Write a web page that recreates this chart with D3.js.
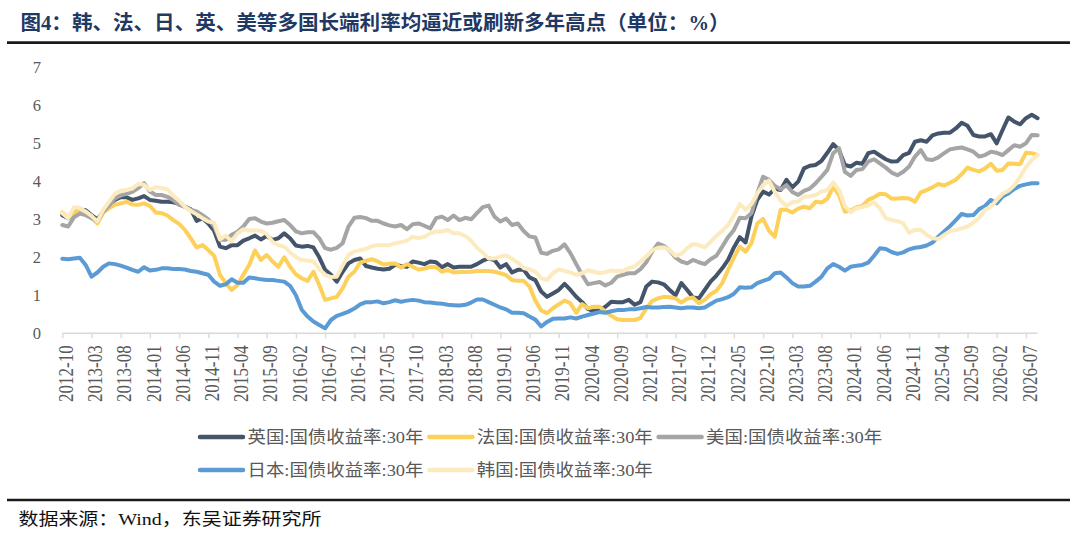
<!DOCTYPE html>
<html>
<head>
<meta charset="utf-8">
<script src="https://cdn.jsdelivr.net/npm/d3@7"></script>
<style>
  html, body { margin: 0; padding: 0; background: #ffffff; }
  svg { display: block; }
</style>
</head>
<body>
<svg id="chart" width="1080" height="539"></svg>
<script>
// ---------- DATA ----------
const titleText = "图4：韩、法、日、英、美等多国长端利率均逼近或刷新多年高点（单位：%）";
const sourceText = "数据来源：Wind，东吴证券研究所";

// monthly categories 2012-10 .. 2026-09
const months = d3.timeMonth.range(new Date(2012, 9, 1), new Date(2026, 9, 1)).map(d3.timeFormat("%Y-%m"));

const tickLabels = ["2012-10","2013-03","2013-08","2014-01","2014-06","2014-11","2015-04","2015-09",
  "2016-02","2016-07","2016-12","2017-05","2017-10","2018-03","2018-08","2019-01","2019-06","2019-11",
  "2020-04","2020-09","2021-02","2021-07","2021-12","2022-05","2022-10","2023-03","2023-08","2024-01",
  "2024-06","2024-11","2025-04","2025-09","2026-02","2026-07"];
const yTicks = [0, 1, 2, 3, 4, 5, 6, 7];

const seriesNames = ["英国:国债收益率:30年", "法国:国债收益率:30年", "美国:国债收益率:30年",
  "日本:国债收益率:30年", "韩国:国债收益率:30年"];

const ukValues = [
  3.11,3.03,3.16,3.26,3.24,3.11,3.00,3.20,3.38,3.51,
  3.58,3.58,3.51,3.55,3.61,3.51,3.49,3.46,3.46,3.45,
  3.41,3.33,3.26,2.96,3.03,2.89,2.70,2.28,2.24,2.32,
  2.32,2.44,2.50,2.57,2.47,2.56,2.46,2.50,2.63,2.50,
  2.31,2.28,2.30,2.26,2.00,1.67,1.54,1.36,1.62,1.84,
  1.93,1.97,1.77,1.73,1.70,1.68,1.70,1.80,1.77,1.75,
  1.89,1.86,1.82,1.89,1.87,1.74,1.82,1.73,1.75,1.75,
  1.75,1.82,1.91,1.97,1.93,1.73,1.82,1.60,1.67,1.67,
  1.47,1.40,1.10,0.96,1.05,1.14,1.30,1.14,0.96,0.82,
  0.64,0.58,0.61,0.70,0.83,0.82,0.82,0.88,0.75,0.82,
  1.23,1.36,1.34,1.29,1.14,1.00,1.32,1.14,0.94,0.92,
  1.14,1.36,1.52,1.71,1.93,2.26,2.53,2.39,3.07,3.51,
  3.73,3.65,3.80,3.77,4.04,3.84,3.99,4.34,4.41,4.43,
  4.54,4.75,4.98,4.82,4.43,4.39,4.49,4.46,4.74,4.78,
  4.68,4.58,4.52,4.53,4.69,4.75,5.04,5.08,5.04,5.21,
  5.26,5.28,5.28,5.39,5.54,5.46,5.22,5.18,5.18,5.24,
  5.00,5.35,5.68,5.57,5.50,5.66,5.75,5.66];

const frValues = [
  3.18,3.04,3.16,3.26,3.20,3.07,2.89,3.18,3.29,3.38,
  3.42,3.46,3.39,3.38,3.42,3.35,3.18,3.16,3.10,2.98,
  2.88,2.72,2.50,2.26,2.32,2.19,2.04,1.54,1.32,1.14,
  1.27,1.54,1.80,2.18,1.93,2.06,1.89,1.75,2.00,1.75,
  1.55,1.45,1.38,1.62,1.27,0.88,0.92,0.96,1.18,1.49,
  1.62,1.86,1.91,1.95,1.89,1.81,1.83,1.84,1.73,1.82,
  1.75,1.68,1.70,1.75,1.74,1.62,1.67,1.60,1.61,1.61,
  1.62,1.64,1.64,1.64,1.62,1.58,1.53,1.40,1.38,1.38,
  1.23,0.86,0.60,0.53,0.66,0.76,0.86,0.79,0.54,0.77,
  0.66,0.70,0.70,0.57,0.46,0.37,0.35,0.35,0.35,0.40,
  0.66,0.85,0.92,0.96,0.95,0.92,0.81,0.91,0.94,0.79,
  0.88,1.03,1.12,1.32,1.67,1.99,2.28,2.15,2.37,2.89,
  3.01,2.70,2.54,3.25,3.25,3.18,3.28,3.33,3.29,3.46,
  3.44,3.54,3.86,3.64,3.20,3.23,3.32,3.35,3.51,3.58,
  3.67,3.66,3.54,3.55,3.56,3.55,3.46,3.71,3.77,3.84,
  3.93,3.89,3.96,4.04,4.19,4.36,4.30,4.26,4.34,4.46,
  4.28,4.30,4.47,4.46,4.45,4.75,4.74,4.69];

const usValues = [
  2.85,2.81,3.05,3.15,3.11,3.03,2.94,3.20,3.36,3.55,
  3.63,3.67,3.72,3.82,3.95,3.73,3.64,3.64,3.59,3.51,
  3.38,3.33,3.25,3.21,3.11,3.00,2.81,2.46,2.46,2.59,
  2.67,2.81,3.01,3.03,2.94,2.89,2.91,2.95,2.98,2.85,
  2.68,2.63,2.66,2.66,2.50,2.24,2.20,2.25,2.37,2.81,
  3.04,3.06,3.03,2.96,2.96,2.89,2.84,2.81,2.85,2.74,
  2.87,2.89,2.83,2.76,3.03,3.07,2.98,3.10,2.98,3.04,
  3.00,3.16,3.32,3.36,3.07,2.94,3.02,2.85,2.89,2.69,
  2.55,2.52,2.12,2.09,2.17,2.21,2.34,2.11,1.82,1.54,
  1.29,1.32,1.35,1.26,1.33,1.49,1.54,1.58,1.58,1.69,
  1.87,2.15,2.36,2.30,2.18,1.99,1.89,1.84,1.93,1.87,
  1.82,1.95,2.04,2.28,2.53,2.72,3.04,3.03,3.16,3.68,
  4.12,4.04,3.88,3.79,3.90,3.72,3.64,3.75,3.81,3.95,
  4.12,4.30,4.74,4.87,4.25,4.14,4.30,4.32,4.52,4.58,
  4.47,4.36,4.23,4.16,4.25,4.39,4.65,4.82,4.58,4.56,
  4.63,4.74,4.84,4.87,4.89,4.84,4.78,4.65,4.69,4.78,
  4.75,4.69,4.82,4.95,4.91,5.00,5.22,5.21];

const jpValues = [
  1.96,1.95,1.97,1.99,1.80,1.49,1.60,1.75,1.84,1.82,
  1.78,1.73,1.67,1.62,1.74,1.65,1.67,1.71,1.71,1.69,
  1.69,1.68,1.64,1.62,1.58,1.54,1.36,1.25,1.29,1.42,
  1.33,1.33,1.47,1.45,1.42,1.40,1.40,1.38,1.36,1.25,
  1.00,0.62,0.44,0.31,0.22,0.13,0.35,0.46,0.51,0.57,
  0.65,0.76,0.82,0.82,0.84,0.79,0.82,0.87,0.83,0.86,
  0.88,0.86,0.82,0.81,0.79,0.78,0.75,0.74,0.73,0.75,
  0.81,0.89,0.89,0.82,0.75,0.68,0.63,0.54,0.54,0.53,
  0.44,0.36,0.18,0.30,0.38,0.39,0.39,0.42,0.39,0.44,
  0.48,0.52,0.56,0.54,0.58,0.61,0.61,0.63,0.63,0.66,
  0.69,0.68,0.68,0.69,0.70,0.68,0.66,0.68,0.68,0.66,
  0.68,0.77,0.86,0.90,0.95,1.04,1.21,1.20,1.21,1.32,
  1.38,1.43,1.58,1.60,1.47,1.32,1.23,1.23,1.25,1.36,
  1.49,1.71,1.82,1.75,1.65,1.75,1.78,1.80,1.86,2.04,
  2.24,2.22,2.14,2.09,2.13,2.21,2.25,2.27,2.31,2.39,
  2.54,2.68,2.82,2.98,3.14,3.10,3.11,3.27,3.35,3.51,
  3.42,3.60,3.68,3.80,3.88,3.92,3.95,3.95];

const krValues = [
  3.16,3.03,3.32,3.30,3.20,3.09,2.94,3.25,3.46,3.67,
  3.75,3.77,3.81,3.93,3.91,3.77,3.85,3.82,3.79,3.62,
  3.49,3.33,3.22,3.13,3.03,2.94,2.91,2.47,2.57,2.42,
  2.63,2.74,2.70,2.71,2.70,2.61,2.41,2.32,2.28,2.13,
  2.01,1.93,1.91,1.89,1.69,1.54,1.48,1.49,1.78,2.06,
  2.15,2.19,2.22,2.29,2.32,2.32,2.32,2.37,2.40,2.44,
  2.54,2.50,2.54,2.63,2.68,2.68,2.72,2.63,2.63,2.56,
  2.44,2.25,2.12,1.97,1.97,2.02,2.05,1.96,1.86,1.72,
  1.68,1.62,1.45,1.40,1.58,1.68,1.64,1.60,1.54,1.58,
  1.66,1.62,1.58,1.61,1.65,1.64,1.64,1.72,1.76,1.89,
  2.02,2.18,2.25,2.26,2.19,2.04,2.09,2.24,2.35,2.32,
  2.26,2.41,2.56,2.70,2.85,3.10,3.40,3.26,3.40,3.68,
  3.90,4.02,3.72,3.49,3.35,3.45,3.47,3.60,3.60,3.64,
  3.73,3.77,3.97,3.77,3.35,3.19,3.29,3.32,3.37,3.44,
  3.29,3.03,2.98,2.95,2.89,2.65,2.72,2.72,2.59,2.50,
  2.48,2.59,2.69,2.72,2.76,2.81,2.91,3.04,3.25,3.33,
  3.51,3.67,3.75,3.89,4.12,4.37,4.56,4.69];

const seriesColors = ["#44546A", "#FDD05A", "#A5A5A5", "#5B9BD5", "#FDEBC0"];

// ---------- DRAW ----------
const svg = d3.select("#chart");
const serifCJK = "'Liberation Serif', 'Times New Roman', 'Noto Sans CJK SC', serif";

const allSeries = [ukValues, frValues, usValues, jpValues, krValues].map((vals, k) => ({
  name: seriesNames[k], color: seriesColors[k],
  points: months.map((m, i) => ({ m, v: vals[i] }))
}));

const x = d3.scalePoint().domain(months).range([62.3, 1037.6]);
const y = d3.scaleLinear().domain([0, 7]).range([333.3, 67.3]);

// title
svg.append("text")
  .attr("x", 20.5).attr("y", 30)
  .attr("font-family", serifCJK)
  .attr("font-size", 20).attr("font-weight", "bold")
  .attr("fill", "#1F3864")
  .attr("textLength", 709).attr("lengthAdjust", "spacingAndGlyphs")
  .text(titleText);

svg.append("line").attr("x1", 7).attr("x2", 1070).attr("y1", 42.6).attr("y2", 42.6)
  .attr("stroke", "#1a1a1a").attr("stroke-width", 2.6);

// y axis (labels only)
const yAxis = svg.append("g").attr("transform", "translate(44,0)")
  .call(d3.axisLeft(y).tickValues(yTicks).tickSize(0).tickPadding(3).tickFormat(d3.format("d")));
yAxis.select(".domain").remove();
yAxis.selectAll("text")
  .attr("font-family", "'Liberation Serif', serif").attr("font-size", 16.5).attr("fill", "#595959");

// x axis
const xAxis = svg.append("g").attr("transform", `translate(0,${y(0)})`)
  .call(d3.axisBottom(x).tickValues(tickLabels).tickSize(5).tickSizeOuter(0));
xAxis.select(".domain").attr("stroke", "#D9D9D9").attr("stroke-width", 1.5)
  .attr("d", `M${x(months[0])},0H${x(months[months.length - 1])}`);
xAxis.selectAll(".tick line").attr("stroke", "#D9D9D9").attr("stroke-width", 1.3);
xAxis.selectAll(".tick text")
  .attr("font-family", "'Liberation Serif', serif").attr("font-size", 17).attr("fill", "#595959")
  .attr("text-anchor", "end")
  .attr("x", 0).attr("y", 0).attr("dy", "0.36em")
  .attr("transform", "translate(2.5,12) rotate(-90) scale(1,1.25)");

// lines
const line = d3.line().x(d => x(d.m)).y(d => y(d.v)).curve(d3.curveLinear);
svg.append("g").selectAll("path").data(allSeries).join("path")
  .attr("d", d => line(d.points))
  .attr("fill", "none")
  .attr("stroke", d => d.color)
  .attr("stroke-width", 4)
  .attr("stroke-linejoin", "round")
  .attr("stroke-linecap", "round");

// legend
const legendPos = [[200, 437], [429.3, 437], [658.6, 437], [200, 470], [429.3, 470]];
const lg = svg.append("g").selectAll("g").data(allSeries).join("g")
  .attr("transform", (d, i) => `translate(${legendPos[i][0]},${legendPos[i][1]})`);
lg.append("line").attr("x1", 0).attr("x2", 43).attr("y1", 0).attr("y2", 0)
  .attr("stroke", d => d.color).attr("stroke-width", 4.5).attr("stroke-linecap", "round");
lg.append("text").attr("x", 47.5).attr("y", 0).attr("dy", "0.36em")
  .attr("font-family", serifCJK).attr("font-size", 17).attr("fill", "#595959")
  .attr("textLength", 176).attr("lengthAdjust", "spacingAndGlyphs")
  .text(d => d.name);

// bottom rule and source
svg.append("line").attr("x1", 7).attr("x2", 1070).attr("y1", 500).attr("y2", 500)
  .attr("stroke", "#1a1a1a").attr("stroke-width", 2.6);
svg.append("text").attr("x", 18.5).attr("y", 524.5)
  .attr("font-family", serifCJK).attr("font-size", 17).attr("fill", "#111")
  .attr("textLength", 303).attr("lengthAdjust", "spacingAndGlyphs")
  .text(sourceText);
</script>
</body>
</html>
